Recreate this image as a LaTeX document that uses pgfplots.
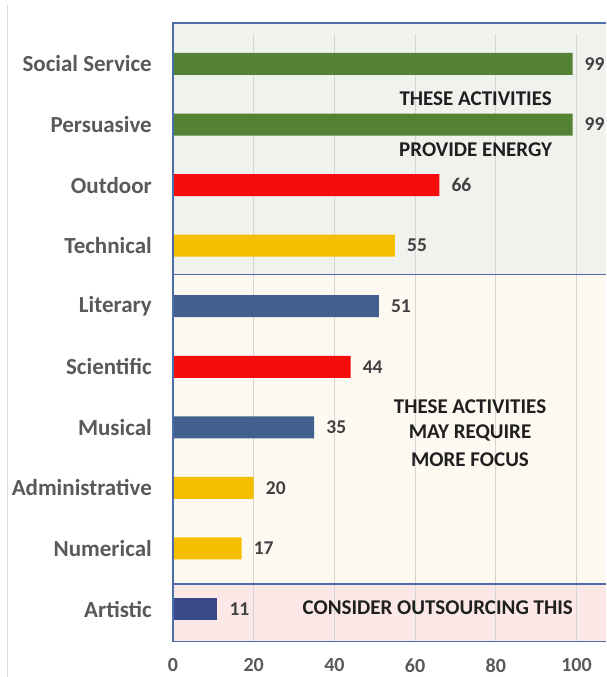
\documentclass[border=0pt]{standalone}
\usepackage{pgfplots}
\pgfplotsset{compat=1.18}
\usepackage{fontspec}
\setmainfont{Carlito}
\definecolor{cgreen}{HTML}{548235}
\definecolor{cred}{HTML}{F40C0C}
\definecolor{cyellow}{HTML}{F5BF00}
\definecolor{cblue}{HTML}{41608F}
\definecolor{cdblue}{HTML}{3B4A8A}
\definecolor{bandA}{HTML}{F0F2EE}
\definecolor{bandB}{HTML}{FEFAF2}
\definecolor{bandC}{HTML}{FDE8E8}
\definecolor{bord}{HTML}{4D6DAA}
\definecolor{lab}{HTML}{595959}
\definecolor{val}{HTML}{404040}
\begin{document}
\begin{tikzpicture}
\draw[black!15, line width=0.8pt] (7pt,0pt) -- (7pt,672pt);
\begin{axis}[
  at={(173pt,37.7pt)}, anchor=south west, scale only axis,
  width=433pt, height=605.6pt,
  xmin=0, xmax=107.3, ymin=-0.5, ymax=9.5,
  clip=false,
  /pgf/number format/assume math mode=true,
  xtick={0,20,...,100}, ytick={0,...,9},
  yticklabels={Artistic,Numerical,Administrative,Musical,Scientific,Literary,Technical,Outdoor,Persuasive,Social Service},
  axis line style={draw=none}, major tick length=0pt,
  ticklabel style={text=lab, font=\fontsize{20}{24}\selectfont\bfseries, inner sep=0pt},
  yticklabel style={font=\fontsize{23}{27}\selectfont\bfseries, xshift=-21pt},
  xticklabel style={yshift=-19pt},
  xbar, bar width=22pt,
  nodes near coords,
  nodes near coords style={anchor=west, inner sep=0pt, xshift=12pt, text=val, font=\fontsize{19.5}{23}\selectfont\bfseries},
]
\fill[bandA] (axis cs:0,5.527) rectangle (axis cs:107.3,9.677);
\fill[bandB] (axis cs:0,0.414) rectangle (axis cs:107.3,5.527);
\fill[bandC] (axis cs:0,-0.54) rectangle (axis cs:107.3,0.414);
\foreach \v in {20,40,60,80,100} {
  \edef\tmp{\noexpand\draw[black!17, line width=1pt] (axis cs:\v,-0.54) -- (axis cs:\v,9.5);}
  \tmp
}

\addplot[fill=cgreen, draw=none, bar shift=0pt] coordinates {(99,9) (99,8)};
\addplot[fill=cred, draw=none, bar shift=0pt] coordinates {(66,7) (44,4)};
\addplot[fill=cyellow, draw=none, bar shift=0pt] coordinates {(55,6) (20,2) (17,1)};
\addplot[fill=cblue, draw=none, bar shift=0pt] coordinates {(51,5) (35,3)};
\addplot[fill=cdblue, draw=none, bar shift=0pt] coordinates {(11,0)};

\draw[bord, line width=1.3pt] (axis cs:107.3,9.677) -- (axis cs:0,9.677) -- (axis cs:0,-0.54) -- (axis cs:107.3,-0.54);
\draw[bord, line width=1.3pt] (axis cs:0,5.527) -- (axis cs:107.3,5.527);
\draw[bord, line width=1.3pt] (axis cs:0,0.414) -- (axis cs:107.3,0.414);

\node[font=\fontsize{21}{25}\selectfont\bfseries, text=black!88] at (axis cs:75,8.42) {THESE ACTIVITIES};
\node[font=\fontsize{21}{25}\selectfont\bfseries, text=black!88] at (axis cs:75,7.58) {PROVIDE ENERGY};
\node[font=\fontsize{21}{25}\selectfont\bfseries, text=black!88] at (axis cs:73.6,3.336) {THESE ACTIVITIES};
\node[font=\fontsize{21}{25}\selectfont\bfseries, text=black!88] at (axis cs:73.6,2.907) {MAY REQUIRE};
\node[font=\fontsize{21}{25}\selectfont\bfseries, text=black!88] at (axis cs:73.6,2.461) {MORE FOCUS};
\node[font=\fontsize{21}{25}\selectfont\bfseries, text=black!88] at (axis cs:65.6,0.017) {CONSIDER OUTSOURCING THIS};
\end{axis}
\pgfresetboundingbox
\useasboundingbox (0pt,0pt) rectangle (606pt,677pt);
\end{tikzpicture}
\end{document}
